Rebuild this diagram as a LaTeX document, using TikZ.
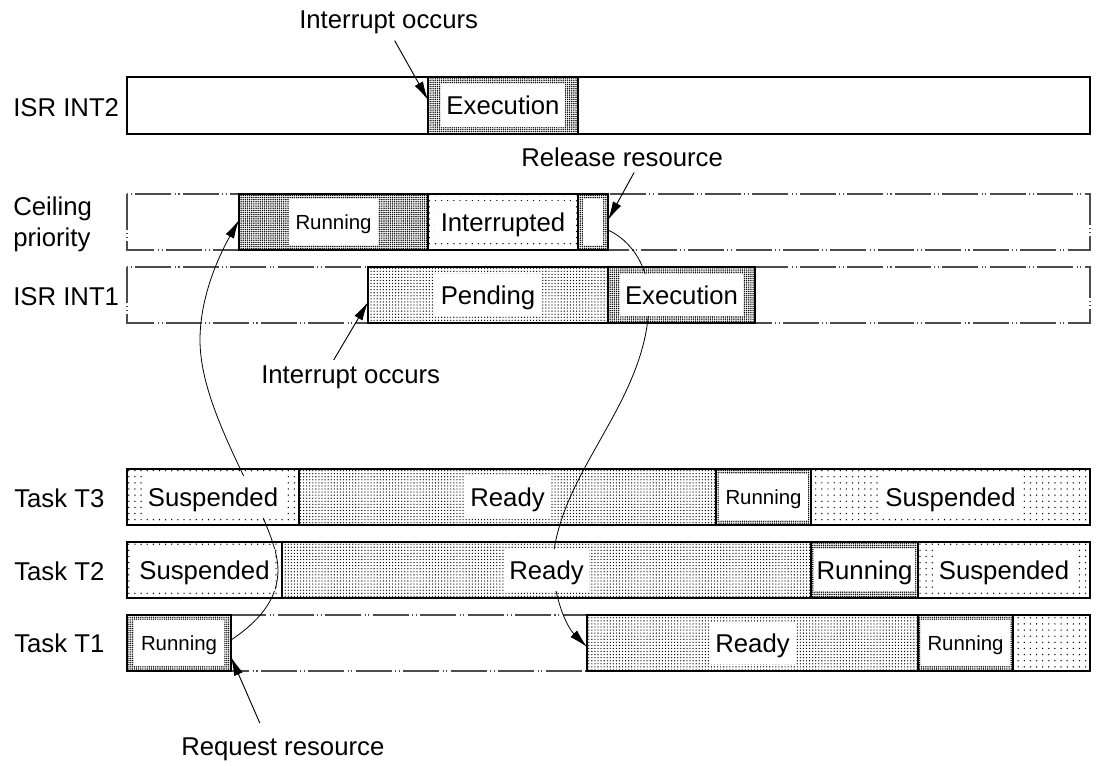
\documentclass[tikz,border=0pt]{standalone}
\usepackage{fontspec}
\setmainfont{Liberation Sans}
\usetikzlibrary{patterns.meta,arrows.meta}

\begin{document}
\begin{tikzpicture}[x=0.75pt,y=0.75pt,yscale=-1,xscale=1,
    bigfont/.style={font=\fontsize{19.3}{23.2}\selectfont},
    smallfont/.style={font=\fontsize{15.3}{18.4}\selectfont},
    seg/.style={line width=1.8pt},
    ddot/.style={line width=0.8pt,black!70,dash pattern=on 27pt off 2.5pt on 0.8pt off 2pt on 0.8pt off 2.5pt},
    runpat/.style={pattern={Dots[distance=1.6pt,radius=0.6pt]}},
    rdypat/.style={pattern={Dots[distance=2.3pt,radius=0.5pt]}},
    suspat/.style={pattern={Dots[distance=4.6pt,radius=0.55pt]}},
    lbl/.style={bigfont,fill=white,inner xsep=4pt,inner ysep=0pt,minimum height=32pt,text height=18.3pt,text depth=4.5pt},
    slbl/.style={smallfont,fill=white,inner xsep=5pt,inner ysep=0pt,minimum height=34pt,text height=14.6pt,text depth=3.6pt},
    arr/.style={-{Latex[length=14pt,width=7pt]},line width=0.7pt}
    ]
            %set diagram left start at 0, and has size of 1096 x 765
            \useasboundingbox (0,0) rectangle (1096,765);
            
            %Shape: Rectangle [ISR INT2]
            \draw [seg] (127,77) rectangle (1090,134) ;
            \draw [seg,runpat] (428,77) rectangle (578,134) ;
            
            %Shape: Rectangle [Ceiling priority]
            \draw [ddot] (127,194) rectangle (1090,250) ;
            \draw [seg,runpat] (239,194) rectangle (428,250) ;
            \draw [seg,suspat] (428,194) rectangle (578,250) ;
            \draw [seg,runpat] (578,194) rectangle (608,250) ;
            \fill [white] (583,199) rectangle (603,245) ;
            
            %Shape: Rectangle [ISR INT1]
            \draw [ddot] (127,267) rectangle (1090,323) ;
            \draw [seg,rdypat] (368,267) rectangle (608,323) ;
            \draw [seg,runpat] (608,267) rectangle (755,323) ;
            
            %Shape: Rectangle [Task T3]
            \draw [seg,suspat] (127,469) rectangle (299,525) ;
            \draw [seg,rdypat] (299,469) rectangle (716,525) ;
            \draw [seg,runpat] (716,469) rectangle (811,525) ;
            \draw [seg,suspat] (811,469) rectangle (1090,525) ;
            
            %Shape: Rectangle [Task T2]
            \draw [seg,suspat] (127,542) rectangle (282,598) ;
            \draw [seg,rdypat] (282,542) rectangle (811,598) ;
            \draw [seg,runpat] (811,542) rectangle (918,598) ;
            \draw [seg,suspat] (918,542) rectangle (1090,598) ;
            
            %Shape: Rectangle [Task T1]
            \draw [ddot] (127,615) rectangle (1090,671) ;
            \draw [seg,runpat] (127,615) rectangle (231,671) ;
            \draw [seg,rdypat] (587,615) rectangle (918,671) ;
            \draw [seg,runpat] (918,615) rectangle (1013,671) ;
            \draw [seg,suspat] (1013,615) rectangle (1090,671) ;
            
            % arrow ends on the segment edges
            \coordinate (int2pt) at (428,100) ;
            \coordinate (relpt) at (608,220) ;
            \coordinate (int1pt) at (368,302) ;
            \coordinate (reqpt) at (231,657) ;
            \coordinate (t1runE) at (231,640) ;
            \coordinate (ceilrunW) at (239,220) ;
            \coordinate (ceilrelE) at (608,230) ;
            \coordinate (t1rdyW) at (587,647) ;
            
            %Curve Lines
            \draw [arr,line width=0.6pt] (t1runE) .. controls (258,622) and (278,600) .. (278,570) .. controls (278,520) and (200,420) .. (200,340) .. controls (200,290) and (225,245) .. (ceilrunW) ;
            %Curve Lines
            \draw [arr,line width=0.6pt] (ceilrelE) .. controls (630,240) and (649,265) .. (649,300) .. controls (649,400) and (560,470) .. (553,560) .. controls (553,600) and (568,628) .. (t1rdyW) ;
            
            % Text Node
            \draw (503,105.5) node [lbl] (int2exe) {Execution};
            % Text Node
            \draw (333.5,222) node [slbl] (ceilrun) {Running};
            % Text Node
            \draw (503,222) node [lbl] (ceilint) {Interrupted};
            % Text Node
            \draw (488,295) node [lbl] (int1pen) {Pending};
            % Text Node
            \draw (681.5,295) node [lbl] (int1exe) {Execution};
            % Text Node
            \draw (213,497) node [lbl] (t3sus) {Suspended};
            % Text Node
            \draw (507.5,497) node [lbl] (t3rdy) {Ready};
            % Text Node
            \draw (763.5,497) node [slbl] (t3run) {Running};
            % Text Node
            \draw (950.5,497) node [lbl] (t3sus2) {Suspended};
            % Text Node
            \draw (204.5,570) node [lbl] (t2sus) {Suspended};
            % Text Node
            \draw (546.5,570) node [lbl] (t2rdy) {Ready};
            % Text Node
            \draw (864.5,570) node [lbl,inner xsep=2pt] (t2run) {Running};
            % Text Node
            \draw (1004,570) node [lbl] (t2sus2) {Suspended};
            % Text Node
            \draw (179,643) node [slbl] (t1run) {Running};
            % Text Node
            \draw (752.5,643) node [lbl] (t1rdy) {Ready};
            % Text Node
            \draw (965.5,643) node [slbl] (t1run2) {Running};
            
            % Text Node
            \draw (12,116) node [anchor=base west][inner sep=0.75pt] [bigfont] (isr2) {ISR INT2};
            % Text Node
            \draw (12,215) node [anchor=base west][inner sep=0.75pt] [bigfont] (ceil) {Ceiling};
            % Text Node
            \draw (12,246) node [anchor=base west][inner sep=0.75pt] [bigfont] (prio) {priority};
            % Text Node
            \draw (12,305) node [anchor=base west][inner sep=0.75pt] [bigfont] (isr1) {ISR INT1};
            % Text Node
            \draw (13,507) node [anchor=base west][inner sep=0.75pt] [bigfont] (task3) {Task T3};
            % Text Node
            \draw (13,580) node [anchor=base west][inner sep=0.75pt] [bigfont] (task2) {Task T2};
            % Text Node
            \draw (13,652) node [anchor=base west][inner sep=0.75pt] [bigfont] (task1) {Task T1};
            
            % Text Node
            \draw (298,28) node [anchor=base west][inner sep=0.75pt] [bigfont] (int2txt) {Interrupt occurs};
            % Text Node
            \draw (520,166) node [anchor=base west][inner sep=0.75pt] [bigfont] (reltxt) {Release resource};
            % Text Node
            \draw (260,383) node [anchor=base west][inner sep=0.75pt] [bigfont] (int1txt) {Interrupt occurs};
            % Text Node
            \draw (180,755) node [anchor=base west][inner sep=0.75pt] [bigfont] (reqtxt) {Request resource};
            
            %Straight Lines
            \draw [arr] (int2txt.south) ++(6,6) -- (int2pt) ;
            %Straight Lines
            \draw [arr] (reltxt.south) ++(12,5) -- (relpt) ;
            %Straight Lines
            \draw [arr] (int1txt.north) ++(-17,-4) -- (int1pt) ;
            %Straight Lines
            \draw [arr] (reqtxt.north) ++(-23,-13) -- (reqpt) ;
            
\end{tikzpicture}
\end{document}
